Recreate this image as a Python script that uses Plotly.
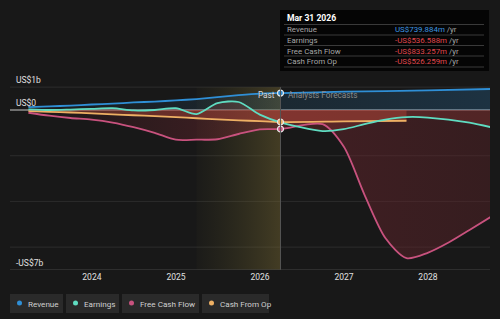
import plotly.graph_objects as go

# ---------------- data (US$ billions) ----------------
past_dates = ["2023-03-31", "2023-06-30", "2023-09-30", "2023-12-31",
              "2024-03-31", "2024-06-30", "2024-09-30", "2024-12-31",
              "2025-03-31", "2025-06-30", "2025-09-30", "2025-12-31",
              "2026-03-31"]
revenue_past = [0.13, 0.16, 0.19, 0.24, 0.28, 0.33, 0.37, 0.42, 0.48, 0.56, 0.65, 0.72, 0.74]
earnings_past = [0.03, 0.0, 0.02, 0.05, 0.08, -0.02, 0.0, 0.08, -0.18, 0.30, 0.35, -0.20, -0.537]
fcf_past = [-0.12, -0.25, -0.35, -0.42, -0.55, -0.75, -1.0, -1.3, -1.3, -1.28, -1.05, -0.85, -0.833]
cfo_past = [-0.05, -0.08, -0.11, -0.15, -0.19, -0.23, -0.27, -0.31, -0.36, -0.41, -0.45, -0.49, -0.526]

rev_fc_dates = ["2026-03-31", "2026-12-31", "2027-12-31", "2028-09-30"]
revenue_fc = [0.74, 0.80, 0.86, 0.92]

earn_fc_dates = ["2026-03-31", "2026-09-30", "2026-12-31", "2027-03-31", "2027-06-30",
                 "2027-09-30", "2027-12-31", "2028-06-30", "2028-09-30"]
earnings_fc = [-0.537, -0.92, -0.84, -0.62, -0.42, -0.31, -0.33, -0.55, -0.75]

fcf_fc_dates = ["2026-03-31", "2026-09-30", "2026-12-31", "2027-03-31", "2027-06-30",
                "2027-09-30", "2027-12-31", "2028-03-31", "2028-06-30", "2028-09-30"]
fcf_fc = [-0.833, -0.62, -1.6, -3.7, -5.6, -6.48, -6.25, -5.8, -5.25, -4.68]

cfo_fc_dates = ["2026-03-31", "2026-12-31", "2027-09-30"]
cfo_fc = [-0.526, -0.50, -0.47]

tooltip_date = "Mar 31 2026"
tooltip_rows = [("Revenue", "US$739.884m", "#3d97e0"),
                ("Earnings", "-US$536.588m", "#e0484e"),
                ("Free Cash Flow", "-US$833.257m", "#e0484e"),
                ("Cash From Op", "-US$526.259m", "#e0484e")]
legend_names = ["Revenue", "Earnings", "Free Cash Flow", "Cash From Op"]

# ---------------- styling ----------------
FONT = "Roboto"
BG = "#181818"
C_REV = "#2f8fd6"
C_EARN = "#5fdcc1"
C_FCF = "#c8527e"
C_CFO = "#eeb064"
Y_MIN, Y_MAX = -7.0, 4.375
X_MIN, X_MAX = "2023-01-10", "2028-09-27"
PAST_START, PAST_END = "2025-03-31", "2026-03-31"

W, H = 500, 319
ML, MR, MT, MB = 10, 10, 10, 49


def px(x):
    return (x - ML) / (W - ML - MR)


def py(y):
    return (H - MB - y) / (H - MT - MB)


fig = go.Figure()

# shaded past-year band (gradient)
fig.add_trace(go.Scatter(
    x=[PAST_START, PAST_END, PAST_END, PAST_START, PAST_START],
    y=[Y_MIN, Y_MIN, 1, 1, Y_MIN], mode="lines", line=dict(width=0),
    fill="toself",
    fillgradient=dict(type="horizontal",
                      colorscale=[[0, "rgba(90,85,40,0.05)"], [1, "rgba(120,105,50,0.45)"]]),
    hoverinfo="skip", showlegend=False))

all_rev_x = past_dates + rev_fc_dates[1:]
all_rev_y = revenue_past + revenue_fc[1:]
all_earn_x = past_dates + earn_fc_dates[1:]
all_earn_y = earnings_past + earnings_fc[1:]
all_fcf_x = past_dates + fcf_fc_dates[1:]
all_fcf_y = fcf_past + fcf_fc[1:]
all_cfo_x = past_dates + cfo_fc_dates[1:]
all_cfo_y = cfo_past + cfo_fc[1:]

# fills
fig.add_trace(go.Scatter(x=all_fcf_x, y=all_fcf_y, mode="lines", line=dict(width=0, shape="spline", smoothing=0.8),
                         fill="tozeroy",
                         fillgradient=dict(type="horizontal",
                                           colorscale=[[0, "rgba(110,35,45,0.05)"], [0.5, "rgba(120,40,50,0.45)"],
                                                       [1, "rgba(90,35,40,0.45)"]]),
                         hoverinfo="skip", showlegend=False))
fig.add_trace(go.Scatter(x=all_cfo_x, y=all_cfo_y, mode="lines", line=dict(width=0, shape="spline"),
                         fill="tozeroy", fillcolor="rgba(200,80,60,0.36)",
                         hoverinfo="skip", showlegend=False))
fig.add_trace(go.Scatter(x=all_earn_x, y=all_earn_y, mode="lines", line=dict(width=0, shape="spline"),
                         fill="tozeroy", fillcolor="rgba(180,70,60,0.22)",
                         hoverinfo="skip", showlegend=False))
fig.add_trace(go.Scatter(x=all_rev_x, y=all_rev_y, mode="lines", line=dict(width=0, shape="spline"),
                         fill="tozeroy",
                         fillgradient=dict(type="horizontal",
                                           colorscale=[[0, "rgba(47,143,214,0.03)"], [1, "rgba(47,143,214,0.22)"]]),
                         hoverinfo="skip", showlegend=False))

# lines
for xs, ys, c in [(all_cfo_x, all_cfo_y, C_CFO), (all_fcf_x, all_fcf_y, C_FCF),
                  (all_earn_x, all_earn_y, C_EARN), (all_rev_x, all_rev_y, C_REV)]:
    fig.add_trace(go.Scatter(x=xs, y=ys, mode="lines",
                             line=dict(color=c, width=1.8, shape="spline", smoothing=0.8),
                             hoverinfo="skip", showlegend=False))

# highlight markers at tooltip date
for val, c in [(cfo_past[-1], C_CFO), (fcf_past[-1], C_FCF), (revenue_past[-1], C_REV)]:
    fig.add_trace(go.Scatter(x=[PAST_END], y=[val], mode="markers",
                             marker=dict(size=6, color=c, line=dict(color="#e8e8e8", width=1.2)),
                             hoverinfo="skip", showlegend=False))

shapes = []
# gridlines
for g in [1, -2, -4, -6]:
    shapes.append(dict(type="line", xref="paper", yref="y", x0=0, x1=1, y0=g, y1=g,
                       line=dict(color="#2c2c2c", width=1), layer="below"))
shapes.append(dict(type="line", xref="paper", yref="y", x0=0, x1=1, y0=0, y1=0,
                   line=dict(color="#c8c8c8", width=1), layer="below"))
# past divider
shapes.append(dict(type="line", xref="x", yref="y", x0=PAST_END, x1=PAST_END, y0=Y_MIN, y1=1,
                   line=dict(color="#555", width=1)))
# bottom axis
shapes.append(dict(type="line", xref="paper", yref="y", x0=0, x1=1, y0=Y_MIN, y1=Y_MIN,
                   line=dict(color="#444", width=1)))

annotations = []
for txt, yy in [("US$1b", 80), ("US$0", 103), ("-US$7b", 263)]:
    annotations.append(dict(text=txt, xref="paper", yref="paper", x=px(14), y=py(yy),
                            xanchor="left", yanchor="middle", showarrow=False,
                            font=dict(size=8.5, color="#e0e0e0")))
annotations.append(dict(text="Past", xref="paper", yref="paper", x=px(277), y=py(95),
                        xanchor="right", yanchor="middle", showarrow=False,
                        font=dict(size=8.2, color="#d8d8d8")))
annotations.append(dict(text="Analysts Forecasts", xref="paper", yref="paper", x=px(286), y=py(95),
                        xanchor="left", yanchor="middle", showarrow=False,
                        font=dict(size=8.2, color="#8a8a8a")))

# tooltip box
shapes.append(dict(type="rect", xref="paper", yref="paper", x0=px(280), x1=px(489), y0=py(71), y1=py(10),
                   fillcolor="#050505", line=dict(width=0)))
annotations.append(dict(text="<b>" + tooltip_date + "</b>", xref="paper", yref="paper", x=px(285), y=py(18),
                        xanchor="left", yanchor="middle", showarrow=False,
                        font=dict(size=8.6, color="#ffffff")))
row_y = [30, 40.5, 51, 61.5]
for i, (name, val, col) in enumerate(tooltip_rows):
    shapes.append(dict(type="line", xref="paper", yref="paper", x0=px(284), x1=px(484),
                       y0=py(row_y[i] - 5.5), y1=py(row_y[i] - 5.5), line=dict(color="#3a3a3a", width=1)))
    annotations.append(dict(text=name, xref="paper", yref="paper", x=px(285), y=py(row_y[i]),
                            xanchor="left", yanchor="middle", showarrow=False,
                            font=dict(size=7.9, color="#a8a8a8")))
    annotations.append(dict(text=f"<span style='color:{col}'>{val}</span> /yr", xref="paper", yref="paper",
                            x=px(393), y=py(row_y[i]), xanchor="left", yanchor="middle", showarrow=False,
                            font=dict(size=7.9, color="#a8a8a8")))
shapes.append(dict(type="line", xref="paper", yref="paper", x0=px(284), x1=px(484),
                   y0=py(67), y1=py(67), line=dict(color="#3a3a3a", width=1)))

# legend buttons
legend_boxes = [(10, 63), (66, 119), (122, 199), (202, 269)]
legend_colors = [C_REV, C_EARN, C_FCF, C_CFO]
for (x0, x1), name, c in zip(legend_boxes, legend_names, legend_colors):
    shapes.append(dict(type="rect", xref="paper", yref="paper", x0=px(x0), x1=px(x1), y0=py(313), y1=py(294),
                       fillcolor="#2a2a2a", line=dict(width=0)))
    shapes.append(dict(type="circle", xref="paper", yref="paper", x0=px(x0 + 7), x1=px(x0 + 12),
                       y0=py(305.5), y1=py(300.5), fillcolor=c, line=dict(width=0)))
    annotations.append(dict(text=name, xref="paper", yref="paper", x=px(x0 + 16), y=py(303.5),
                            xanchor="left", yanchor="middle", showarrow=False,
                            font=dict(size=8.1, color="#d0d0d0")))

fig.update_layout(
    width=W, height=H, margin=dict(l=ML, r=MR, t=MT, b=MB),
    paper_bgcolor=BG, plot_bgcolor=BG,
    font=dict(family=FONT, color="#d0d0d0"),
    shapes=shapes, annotations=annotations, showlegend=False,
    xaxis=dict(range=[X_MIN, X_MAX], showgrid=False, zeroline=False, showline=False,
               tickvals=["2024-01-01", "2025-01-01", "2026-01-01", "2027-01-01", "2028-01-01"],
               ticktext=["2024", "2025", "2026", "2027", "2028"],
               tickfont=dict(size=8.5, color="#e0e0e0"), ticks="", ticklen=0),
    yaxis=dict(range=[Y_MIN, Y_MAX], showgrid=False, zeroline=False, showticklabels=False,
               showline=False, fixedrange=True),
)

fig.write_html("out.html")
